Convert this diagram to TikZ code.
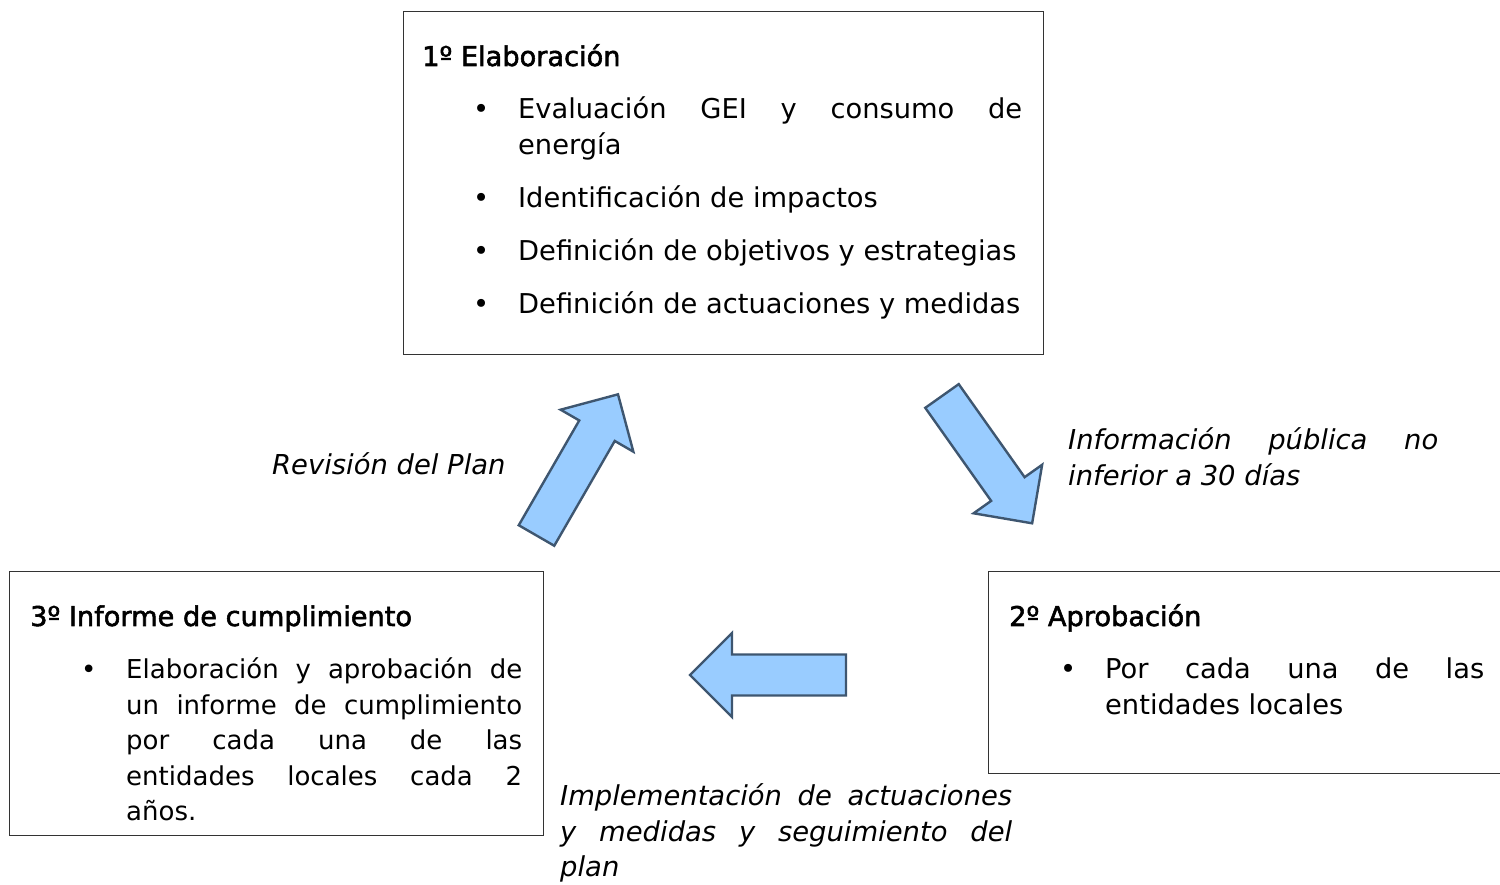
\documentclass[tikz,border=0pt]{standalone}
\usepackage{fontspec}
\setmainfont{DejaVu Sans}
\newfontfamily\titlefont[FakeBold=2]{DejaVu Sans}
\usetikzlibrary{positioning}
\definecolor{arrowfill}{HTML}{99CCFF}
\definecolor{arrowline}{RGB}{62,86,112}
\newcommand{\planitem}[1]{\par\hangindent=96pt\hangafter=1\noindent\makebox[96pt][l]{\hspace{51pt}\textbullet}#1}
\newcommand{\plantitle}[1]{\noindent{\titlefont\fontsize{27.2}{35.5}\selectfont #1}}
\tikzset{
        x=1pt, y=1pt, % one unit is one pixel of the page
        plan box/.style 2 args={
		draw=black!80,
		line width=1.3pt,
		minimum width={#1},
		minimum height={#2},
		anchor=north west,
		inner sep=0pt,
	  },
  		plan text/.style={
    	anchor=base west,
		inner sep=0pt,
		font={\fontsize{27.3}{35.5}\selectfont},
      },
  		step label/.style={
    	anchor=base west,
		inner sep=0pt,
		font={\fontsize{27.4}{35.5}\selectfont\itshape},
      },
  		arrow body/.style={
		fill=arrowfill,
		draw=arrowline,
		line width=2.4pt,
		line join=miter,
      },
  		pics/blockarrow/.style={code={
		\draw[arrow body] (0,-20.5) -- ({#1-42},-20.5) -- ({#1-42},-42) -- (#1,0)
		  -- ({#1-42},42) -- ({#1-42},20.5) -- (0,20.5) -- cycle;
      }},
  	}
\begin{document}
\begin{tikzpicture}
    \useasboundingbox (0,0) rectangle (1500,884);
    % the three stages
    \node [plan box={640pt}{343pt}] (elab) at (403,873) {};
    \node [plan box={517pt}{202pt}] (aprob) at (988,313) {};
    \node [plan box={534pt}{264pt}] (informe) at (9,313) {};
    \node [plan text] (elab text) at ([shift={(19,-55)}]elab.north west) {%
      \begin{minipage}[t]{600pt}\parskip=17.5pt
      \plantitle{1º Elaboración}
      \planitem{Evaluación GEI y consumo de\linebreak energía}
      \planitem{Identificación de impactos}
      \planitem{Definición de objetivos y estrategias}
      \planitem{Definición de actuaciones y medidas}
      \end{minipage}};
    \node [plan text] (aprob text) at ([shift={(21,-55)}]aprob.north west) {%
      \begin{minipage}[t]{475pt}\parskip=17.5pt
      \plantitle{2º Aprobación}
      \planitem{Por cada una de las\linebreak entidades locales}
      \end{minipage}};
    \node [plan text, font={\fontsize{26}{35.5}\selectfont}] (informe text) at ([shift={(21,-55)}]informe.north west) {%
      \begin{minipage}[t]{492pt}\parskip=17.5pt
      \plantitle{3º Informe de cumplimiento}
      \planitem{Elaboración y aprobación de\linebreak un informe de cumplimiento\linebreak por cada una de las\linebreak entidades locales cada 2\linebreak años.}
      \end{minipage}};
    % arrows of the cycle
    \pic [rotate=-54.7] at (942,488) {blockarrow=156};
    \pic [rotate=180] at (846,209) {blockarrow=156};
    \pic [rotate=60] at (536.5,348.5) {blockarrow=163};
    % labels of the arrows
    \node [step label] (info) at (1068,434) {%
      \begin{minipage}[t]{370pt}Información pública no\linebreak inferior a 30 días\end{minipage}};
    \node [step label] (impl) at (560,78) {%
      \begin{minipage}[t]{452pt}Implementación de actuaciones\linebreak y medidas y seguimiento del\linebreak plan\end{minipage}};
    \node [step label] (revision) at (272,409) {Revisión del Plan};
  \end{tikzpicture}
\end{document}
